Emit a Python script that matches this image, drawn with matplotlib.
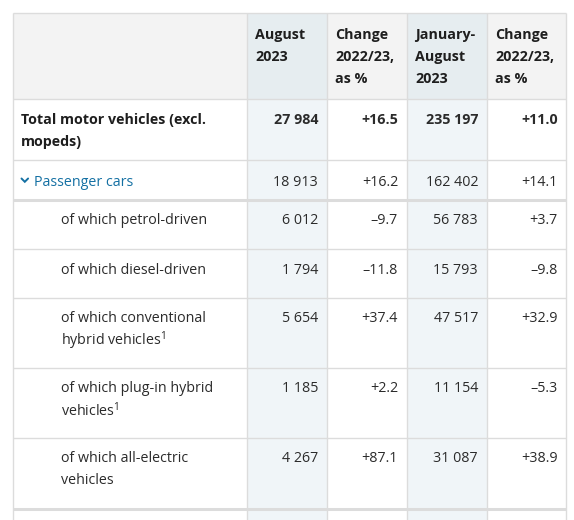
import matplotlib.pyplot as plt
from matplotlib.patches import Rectangle

plt.rcParams['font.family'] = ['Open Sans', 'DejaVu Sans']
plt.rcParams['mathtext.fontset'] = 'custom'
plt.rcParams['mathtext.rm'] = 'Open Sans'

# table content
headers = ["August\n2023", "Change\n2022/23,\nas %", "January-\nAugust\n2023", "Change\n2022/23,\nas %"]
row_labels = [
    "Total motor vehicles (excl.\nmopeds)",
    "Passenger cars",
    "of which petrol-driven",
    "of which diesel-driven",
    "of which conventional\nhybrid vehicles$^1$",
    "of which plug-in hybrid\nvehicles$^1$",
    "of which all-electric\nvehicles",
]
aug_2023 = ["27 984", "18 913", "6 012", "1 794", "5 654", "1 185", "4 267"]
aug_change = ["+16.5", "+16.2", "\u20139.7", "\u201311.8", "+37.4", "+2.2", "+87.1"]
janaug_2023 = ["235 197", "162 402", "56 783", "15 793", "47 517", "11 154", "31 087"]
janaug_change = ["+11.0", "+14.1", "+3.7", "\u20139.8", "+32.9", "\u20135.3", "+38.9"]

# layout (pixels)
col_x = [12.5, 246.5, 326.5, 406.5, 486.5, 566]
row_y = [13, 98.5, 159.5, 200, 249, 298, 368, 438, 509, 530]
line_h = 21.8
grid = '#dcdcdc'
txt = '#2b2b2b'
blue_txt = '#1470a3'

fig = plt.figure(figsize=(5.74, 5.20), dpi=100)
ax = fig.add_axes([0, 0, 1, 1])
ax.set_xlim(0, 574)
ax.set_ylim(520, 0)
ax.axis('off')

# backgrounds
for c in range(5):
    x0, x1 = col_x[c], col_x[c + 1]
    hdr_col = '#e6edf0' if c in (1, 3) else '#f3f3f3'
    ax.add_patch(Rectangle((x0, row_y[0]), x1 - x0, row_y[1] - row_y[0], fc=hdr_col, ec='none'))
    body_col = '#f0f5f8' if c in (1, 3) else 'white'
    ax.add_patch(Rectangle((x0, row_y[1]), x1 - x0, row_y[-1] - row_y[1], fc=body_col, ec='none'))

# grid lines
for y in row_y[:-1]:
    lw = 2.2 if y in (200, 509) else 1.0
    ax.plot([col_x[0], col_x[-1]], [y, y], color=grid, lw=lw, solid_capstyle='butt')
for x in col_x:
    ax.plot([x, x], [row_y[0], 520], color=grid, lw=1.0, solid_capstyle='butt')

fs = 10.3
dy = 2.0

# headers
for c, h in enumerate(headers):
    for k, part in enumerate(h.split('\n')):
        ax.text(col_x[c + 1] + 8.5, 33 + dy + k * line_h, part, fontsize=fs, fontweight='bold',
                color='#1e1e1e', va='center', ha='left')

# body rows
text_top = [118, 180, 219, 268, 317, 387, 457]
for r, label in enumerate(row_labels):
    y = text_top[r] + dy
    bold = 'bold' if r == 0 else 'normal'
    if r == 0:
        lx, color = 21, '#1e1e1e'
    elif r == 1:
        lx, color = 34, blue_txt
        ax.plot([21.5, 24.8, 28.1], [178.5, 181.8, 178.5], color=blue_txt, lw=1.4,
                solid_capstyle='round', solid_joinstyle='miter')
    else:
        lx, color = 61, txt
    for k, part in enumerate(label.split('\n')):
        ax.text(lx, y + k * line_h, part, fontsize=fs, fontweight=bold, color=color,
                va='center', ha='left')
    for c, vals in enumerate([aug_2023, aug_change, janaug_2023, janaug_change]):
        ax.text(col_x[c + 2] - 8.5, y, vals[r], fontsize=fs, fontweight=bold, color=txt,
                va='center', ha='right')

fig.savefig('out.png', dpi=100)
